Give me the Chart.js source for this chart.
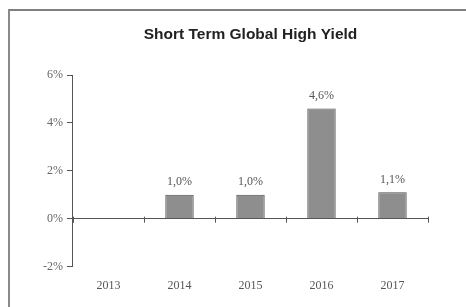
<!DOCTYPE html>
<html>
<head>
<meta charset="utf-8">
<script src="https://cdn.jsdelivr.net/npm/chart.js@4"></script>
<style>
  body { margin: 0; background: #fff; overflow: hidden; }
  #wrap { position: relative; width: 466px; height: 307px; }
  #frame { position: absolute; left: 8px; top: 9px; width: 470px; height: 310px;
           border-top: 2px solid #808080; border-left: 2px solid #8a8a8a; pointer-events: none; }
</style>
</head>
<body>
<div id="wrap">
  <canvas id="yieldChart" width="466" height="307"></canvas>
  <div id="frame"></div>
</div>
<script>
const years = ['2013', '2014', '2015', '2016', '2017'];
const returns = [null, 1.0, 1.0, 4.6, 1.1];
const returnLabels = ['', '1,0%', '1,0%', '4,6%', '1,1%'];
const chartTitle = 'Short Term Global High Yield';

const serif = '"Liberation Serif", "DejaVu Serif", serif';

// title centred over the plot, value labels and x ticks on the zero line
const extras = {
    id: 'extras',
    afterDatasetsDraw(chart) {
        const c = chart.ctx;
        const area = chart.chartArea;
        const x = chart.scales.x;
        const y = chart.scales.y;
        c.save();
        c.fillStyle = '#222';
        c.font = 'bold 15.5px "Liberation Sans", Arial, sans-serif';
        c.textAlign = 'center';
        c.textBaseline = 'middle';
        c.fillText(chartTitle, (area.left + area.right) / 2, 35);

        const y0 = y.getPixelForValue(0);
        c.strokeStyle = '#555';
        c.lineWidth = 1;
        const step = x.width / years.length;
        for (let i = 0; i <= years.length; i++) {
            const px = Math.round(x.left + i * step) + 0.5;
            c.beginPath();
            c.moveTo(px, y0 - 2);
            c.lineTo(px, y0 + 4);
            c.stroke();
        }

        c.fillStyle = '#555';
        c.font = '12px ' + serif;
        c.textBaseline = 'bottom';
        chart.getDatasetMeta(0).data.forEach((bar, i) => {
            if (returns[i] === null) return;
            c.fillText(returnLabels[i], bar.x, bar.y - 7);
        });
        c.restore();
    }
};

const ctx = document.getElementById('yieldChart').getContext('2d');
const yieldChart = new Chart(ctx, {
    type: 'bar',
    data: {
        labels: years,
        datasets: [{
            data: returns,
            backgroundColor: '#8e8e8e',
            borderColor: '#4d4d4d',
            borderWidth: 1,
            barPercentage: 0.4,
            categoryPercentage: 1.0
        }]
    },
    options: {
        responsive: false,
        animation: false,
        layout: { padding: { top: 75, left: 39, right: 38, bottom: 2 } },
        plugins: {
            legend: { display: false },
            tooltip: { enabled: false }
        },
        scales: {
            x: {
                grid: { display: false, drawTicks: false },
                border: { display: false },
                ticks: { color: '#555', font: { family: serif, size: 12 }, padding: 12 }
            },
            y: {
                min: -2,
                max: 6,
                ticks: {
                    stepSize: 2,
                    color: '#666',
                    font: { family: serif, size: 12 },
                    padding: 4,
                    callback: v => v + '%'
                },
                grid: {
                    color: c => c.tick && c.tick.value === 0 ? '#555' : 'rgba(0,0,0,0)',
                    tickColor: '#555',
                    tickLength: 6
                },
                border: { display: true, color: '#555' }
            }
        }
    },
    plugins: [extras]
});
</script>
</body>
</html>
